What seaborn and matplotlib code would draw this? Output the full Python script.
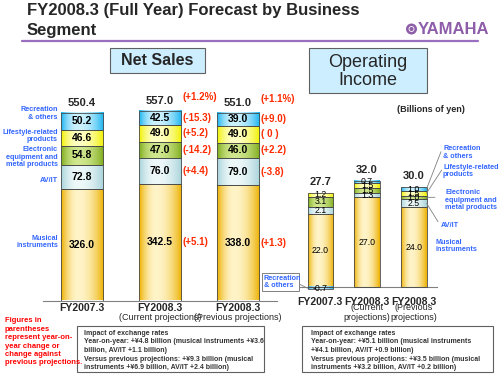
import numpy as np
import pandas as pd
import seaborn as sns
import matplotlib.pyplot as plt
from matplotlib.colors import to_rgb
from matplotlib.patches import Rectangle, Ellipse
from matplotlib.lines import Line2D
from matplotlib.transforms import blended_transform_factory

periods = ["FY2007.3", "FY2008.3 current", "FY2008.3 previous"]
period_head = ["FY2007.3", "FY2008.3", "FY2008.3"]
sales_sub = ["", "(Current projections)", "(Previous projections)"]
op_sub = ["", "(Current\nprojections)", "(Previous\nprojections)"]

# segments, bottom to top: musical instruments, AV/IT, electronic, lifestyle, recreation
sales_mi = [326.0, 342.5, 338.0]
sales_av = [72.8, 76.0, 79.0]
sales_el = [54.8, 47.0, 46.0]
sales_ls = [46.6, 49.0, 49.0]
sales_rc = [50.2, 42.5, 39.0]
sales_total = [550.4, 557.0, 551.0]

op_mi = [22.0, 27.0, 24.0]
op_av = [2.1, 1.3, 2.5]
op_el = [3.1, 1.5, 1.0]
op_ls = [1.2, 1.5, 1.5]
op_rc = [-0.7, 0.7, 1.0]
op_total = [27.7, 32.0, 30.0]

change_cur = ["(+5.1)", "(+4.4)", "(-14.2)", "(+5.2)", "(-15.3)"]
change_prev = ["(+1.3)", "(-3.8)", "(+2.2)", "( 0 )", "(+9.0)"]
total_change = ["", "(+1.2%)", "(+1.1%)"]

seg_colors = [("#EDB000", "#FFF4C8"), ("#A6D3DA", "#EEF8F9"), ("#7FAC1C", "#D0E78E"),
              ("#F0F000", "#FFFFC4"), ("#1CB4F0", "#CDF2FF")]

BLUE = "#3366FF"
RED = "#FF2A00"

sns.set_theme(style="white")
plt.rcParams["font.family"] = ["Liberation Sans", "DejaVu Sans"]

fig = plt.figure(figsize=(5, 3.75), dpi=100)


def fx(x):
    return x / 500


def fy(y):
    return 1 - y / 375


def gradient(dark, light, n=80):
    t = np.linspace(0, 1, n)
    w = np.where(t < 0.4, 1 - ((t - 0.4) / 0.4) ** 2, 1 - ((t - 0.4) / 0.6) ** 2)
    w = np.clip(w, 0, 1)
    d = np.array(to_rgb(dark))
    l = np.array(to_rgb(light))
    return (d[None, :] * (1 - w[:, None]) + l[None, :] * w[:, None])[None, :, :]


def stacked(ax, table, fmt, size, weight):
    values = np.array(table)
    pos_base = np.zeros(values.shape[1])
    neg_base = np.zeros(values.shape[1])
    bottoms = []
    for k, row in enumerate(values):
        bottom = np.where(row >= 0, pos_base, neg_base)
        bottoms.append(bottom)
        df = pd.DataFrame({"period": periods, "value": row})
        n0 = len(ax.patches)
        sns.barplot(data=df, x="period", y="value", order=periods, color=seg_colors[k][0],
                    width=0.55, bottom=bottom, edgecolor="#4a4a4a", linewidth=0.6,
                    errorbar=None, ax=ax)
        grad = gradient(*seg_colors[k])
        for p in ax.patches[n0:]:
            x0, w = p.get_x(), p.get_width()
            y0, h = p.get_y(), p.get_height()
            ax.imshow(grad, extent=[x0, x0 + w, min(y0, y0 + h), max(y0, y0 + h)],
                      aspect="auto", interpolation="bilinear", zorder=2)
            p.set_facecolor("none")
            p.set_zorder(3)
        for i, v in enumerate(row):
            ax.text(i, bottom[i] + v / 2, fmt.format(v), ha="center", va="center",
                    fontsize=size, fontweight=weight, color="black", zorder=4)
        pos_base = pos_base + np.clip(row, 0, None)
        neg_base = neg_base + np.clip(row, None, 0)
    return np.array(bottoms), pos_base


def style_axis(ax):
    for s in ["left", "top", "right"]:
        ax.spines[s].set_visible(False)
    ax.spines["bottom"].set_color("#808080")
    ax.spines["bottom"].set_linewidth(0.8)
    ax.set_xticks([-0.5, 0.5, 1.5, 2.5])
    ax.set_xticklabels([])
    ax.set_yticks([])
    ax.tick_params(axis="x", length=3, width=0.8, color="#808080", direction="out")
    ax.set_xlabel("")
    ax.set_ylabel("")
    ax.patch.set_alpha(0)


# ---------------- Net sales ----------------
ax1 = fig.add_axes([fx(43), fy(300.5), fx(234), 220.5 / 375])
sales_table = [sales_mi, sales_av, sales_el, sales_ls, sales_rc]
s_bottoms, s_tops = stacked(ax1, sales_table, "{:.1f}", 7.5, "bold")
style_axis(ax1)
ax1.set_xlim(-0.5, 2.5)
ax1.set_ylim(0, 220.5 / 0.341)

for i, t in enumerate(sales_total):
    ax1.annotate(f"{t:.1f}", (i, s_tops[i]), xytext=(0, 7), textcoords="offset points",
                 ha="center", va="center", fontsize=8, fontweight="bold")
    if total_change[i]:
        ax1.annotate(total_change[i], (i + 0.275, s_tops[i]), xytext=(1, 10),
                     textcoords="offset points", ha="left", va="center",
                     fontsize=7, fontweight="bold", color=RED)

for i, labels in [(1, change_cur), (2, change_prev)]:
    for k, lab in enumerate(labels):
        v = sales_table[k][i]
        ax1.annotate(lab, (i + 0.275, s_bottoms[k][i] + v / 2), xytext=(1, 0),
                     textcoords="offset points", ha="left", va="center",
                     fontsize=7, fontweight="bold", color=RED)

trans1 = blended_transform_factory(ax1.transData, fig.transFigure)
for i in range(3):
    ax1.text(i, fy(308), period_head[i], transform=trans1, ha="center", va="center",
             fontsize=7.5, fontweight="bold")
    if sales_sub[i]:
        ax1.text(i, fy(317.7), sales_sub[i], transform=trans1, ha="center", va="center",
                 fontsize=6.5)

left_labels = [("Recreation\n& others", 113.5), ("Lifestyle-related\nproducts", 136),
               ("Electronic\nequipment and\nmetal products", 157), ("AV/IT", 180),
               ("Musical\ninstruments", 242)]
for lab, y in left_labels:
    fig.text(fx(58), fy(y), lab, ha="right", va="center", fontsize=5.2, fontweight="bold",
             color=BLUE, linespacing=1.15)

# ---------------- Operating income ----------------
ax2 = fig.add_axes([fx(297), fy(300), fx(140), 180 / 375])
op_table = [op_mi, op_av, op_el, op_ls, op_rc]
o_bottoms, o_tops = stacked(ax2, op_table, "{:.1f}", 6.3, "normal")
style_axis(ax2)
ax2.spines["bottom"].set_position(("data", 0))
ax2.set_xlim(-0.5, 2.5)
ax2.set_ylim(-13 / 3.32, 167 / 3.32)

for i, t in enumerate(op_total):
    ax2.annotate(f"{t:.1f}", (i, o_tops[i]), xytext=(0, 8), textcoords="offset points",
                 ha="center", va="center", fontsize=8, fontweight="bold")

trans2 = blended_transform_factory(ax2.transData, fig.transFigure)
for i in range(3):
    ax2.text(i, fy(301.7), period_head[i], transform=trans2, ha="center", va="center",
             fontsize=7.5, fontweight="bold")
    if op_sub[i]:
        ax2.text(i, fy(303.5), op_sub[i], transform=trans2, ha="center", va="top",
                 fontsize=6.5, linespacing=1.1)

right_labels = [("Recreation\n& others", 443, 152.5, 4, (441, 151.7)),
                ("Lifestyle-related\nproducts", 443, 171, 3, (441.7, 170)),
                ("Electronic\nequipment and\nmetal products", 445, 200, 2, (435, 197.3)),
                ("AV/IT", 441, 225.7, 1, (438, 221.7)),
                ("Musical\ninstruments", 435, 246, None, None)]
for lab, x, y, k, start in right_labels:
    fig.text(fx(x), fy(y), lab, ha="left", va="center", fontsize=5.2, fontweight="bold",
             color=BLUE, linespacing=1.15)
    if k is not None:
        v = op_table[k][2]
        ax2.annotate("", xy=(2 + 0.275, o_bottoms[k][2] + v / 2), xycoords="data",
                     xytext=(fx(start[0]), fy(start[1])), textcoords="figure fraction",
                     arrowprops=dict(arrowstyle="-", color="#808080", lw=0.6,
                                     shrinkA=0, shrinkB=0), annotation_clip=False)

# callout for the negative recreation value
fig.add_artist(Rectangle((fx(262), fy(291)), fx(37), 18 / 375, transform=fig.transFigure,
                         facecolor="white", edgecolor="#808080", lw=0.7))
fig.text(fx(263.5), fy(282), "Recreation\n& others", ha="left", va="center", fontsize=5.2,
         fontweight="bold", color=BLUE, linespacing=1.15)
ax2.annotate("", xy=(-0.275, op_rc[0] / 2), xycoords="data",
             xytext=(fx(299), fy(284)), textcoords="figure fraction",
             arrowprops=dict(arrowstyle="-", color="#808080", lw=0.6, shrinkA=0, shrinkB=0),
             annotation_clip=False)

fig.text(fx(431), fy(110), "(Billions of yen)", ha="center", va="center", fontsize=6.5,
         fontweight="bold")

# ---------------- headers ----------------
fig.text(fx(27), fy(10), "FY2008.3 (Full Year) Forecast by Business", ha="left",
         va="center", fontsize=12, fontweight="bold")
fig.text(fx(27), fy(30), "Segment", ha="left", va="center", fontsize=12, fontweight="bold")
fig.add_artist(Line2D([fx(22), fx(478)], [fy(41), fy(41)], color="#9B6FBF", lw=1.6))

fig.add_artist(Ellipse((fx(411.5), fy(29)), fx(11), 11 / 375, transform=fig.transFigure,
                       facecolor="#8E5DA9", edgecolor="none"))
fig.add_artist(Ellipse((fx(411.5), fy(29)), fx(5), 5 / 375, transform=fig.transFigure,
                       facecolor="none", edgecolor="white", lw=0.6))
fig.text(fx(418), fy(29.5), "YAMAHA", ha="left", va="center", fontsize=12, fontweight="bold",
         color="#8E5DA9", family=["Liberation Sans Narrow", "Liberation Sans"])

fig.add_artist(Rectangle((fx(110), fy(73)), fx(95), 25 / 375, transform=fig.transFigure,
                         facecolor="#CCEEFF", edgecolor="#606060", lw=0.8))
fig.text(fx(157.5), fy(60.5), "Net Sales", ha="center", va="center", fontsize=11.5,
         fontweight="bold")
fig.add_artist(Rectangle((fx(309), fy(93)), fx(118), 45 / 375, transform=fig.transFigure,
                         facecolor="#CCEEFF", edgecolor="#606060", lw=0.8))
fig.text(fx(368), fy(71.5), "Operating\nIncome", ha="center", va="center", fontsize=13,
         linespacing=1.05)

# ---------------- notes ----------------
note = ["Figures in", "parentheses", "represent year-on-", "year change or",
        "change against", "previous projections."]
for j, line in enumerate(note):
    fig.text(fx(5), fy(321 + j * 8.4), line, ha="left", va="center", fontsize=5.5,
             fontweight="bold", color="#FF0000")

fx_left = ["Impact of exchange rates",
           "Year-on-year: +\u00a54.8 billion (musical instruments +\u00a53.6",
           "billion, AV/IT +1.1 billion)",
           "Versus previous projections: +\u00a59.3 billion (musical",
           "instruments +\u00a56.9 billion, AV/IT +2.4 billion)"]
fx_right = ["Impact of exchange rates",
            "Year-on-year: +\u00a55.1 billion (musical instruments",
            "+\u00a54.1 billion, AV/IT +0.9 billion)",
            "Versus previous projections: +\u00a53.5 billion (musical",
            "instruments +\u00a53.2 billion, AV/IT +0.2 billion)"]
for x0, w, lines, tx in [(77, 187, fx_left, 84), (302, 191, fx_right, 311)]:
    fig.add_artist(Rectangle((fx(x0), fy(372)), fx(w), 46 / 375, transform=fig.transFigure,
                             facecolor="white", edgecolor="#606060", lw=0.8))
    for j, line in enumerate(lines):
        fig.text(fx(tx), fy(333.3 + j * 8.6), line, ha="left", va="center", fontsize=5,
                 fontweight="bold", color="#333333")

fig.savefig("out.png", dpi=100)
